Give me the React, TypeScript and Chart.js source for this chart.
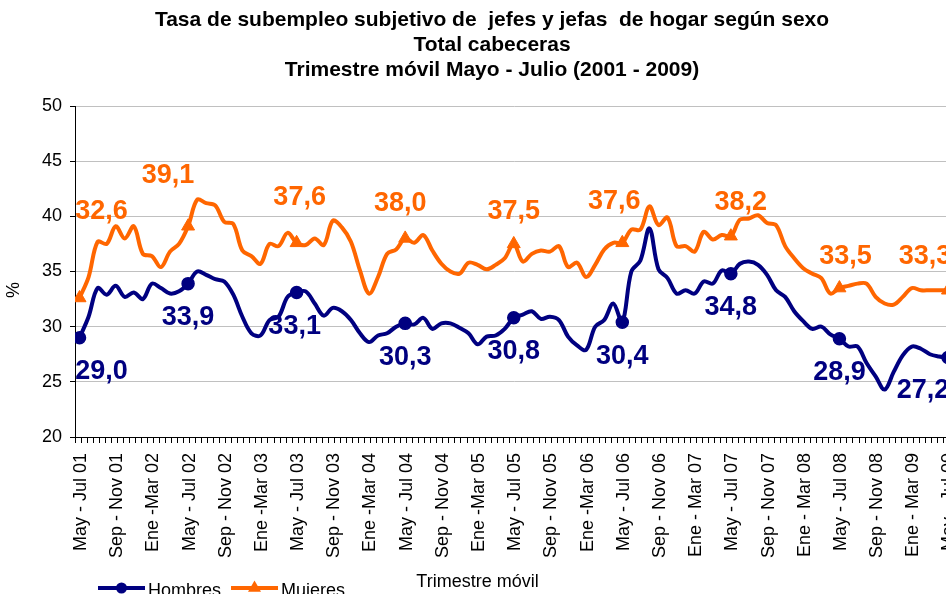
import React, { useEffect, useRef } from 'react';
import { Chart, registerables } from 'chart.js';

Chart.register(...registerables);

// ---- data ----
const tickLabels = [
  'May - Jul 01', 'Sep - Nov 01', 'Ene -Mar 02', 'May - Jul 02', 'Sep - Nov 02', 'Ene -Mar 03',
  'May - Jul 03', 'Sep - Nov 03', 'Ene -Mar 04', 'May - Jul 04', 'Sep - Nov 04', 'Ene -Mar 05',
  'May - Jul 05', 'Sep - Nov 05', 'Ene -Mar 06', 'May - Jul 06', 'Sep - Nov 06', 'Ene - Mar 07',
  'May - Jul 07', 'Sep - Nov 07', 'Ene - Mar 08', 'May - Jul 08', 'Sep - Nov 08', 'Ene - Mar 09',
  'May - Jul 09',
];

const hombres = [
  29.0, 30.9, 33.5, 32.9, 33.7, 32.7, 33.1, 32.5, 33.9, 33.5, 33.0, 33.2,
  33.9, 35.0, 34.7, 34.3, 34.1, 32.9, 30.9, 29.4, 29.2, 30.6, 30.9, 32.7,
  33.1, 33.2, 32.1, 31.0, 31.7, 31.4, 30.6, 29.4, 28.6, 29.2, 29.4, 30.0,
  30.3, 30.2, 30.8, 29.8, 30.3, 30.3, 29.9, 29.4, 28.4, 29.1, 29.2, 29.8,
  30.8, 31.1, 31.4, 30.7, 30.9, 30.6, 29.1, 28.3, 27.9, 30.0, 30.6, 32.1,
  30.4, 35.0, 36.0, 38.9, 35.2, 34.4, 33.0, 33.3, 33.0, 34.1, 33.9, 35.1,
  34.8, 35.7, 35.9, 35.6, 34.7, 33.3, 32.7, 31.4, 30.5, 29.8, 30.0, 29.3,
  28.9, 28.2, 28.2, 26.7, 25.5, 24.3, 25.9, 27.4, 28.2, 28.0, 27.5, 27.3,
  27.2,
];

const mujeres = [
  32.6, 34.5, 37.7, 37.5, 39.1, 38.0, 39.1, 36.6, 36.4, 35.4, 36.8, 37.5,
  39.1, 41.5, 41.2, 41.0, 39.5, 39.3, 36.9, 36.4, 35.7, 37.5, 37.3, 38.5,
  37.6, 37.4, 38.0, 37.4, 39.6, 39.0, 37.7, 35.1, 33.0, 34.5, 36.6, 37.0,
  38.0, 37.6, 38.3, 36.9, 35.7, 35.0, 34.8, 35.8, 35.6, 35.2, 35.6, 36.2,
  37.5, 35.9, 36.6, 36.9, 36.8, 37.3, 35.4, 35.8, 34.5, 35.6, 37.0, 37.6,
  37.6, 38.8, 38.8, 40.9, 39.2, 39.9, 37.3, 37.3, 36.8, 38.6, 37.9, 38.3,
  38.2, 39.7, 39.8, 40.1, 39.4, 39.2, 37.3, 36.2, 35.3, 34.8, 34.4, 33.0,
  33.5, 33.7, 33.9, 33.9, 32.7, 32.1, 32.0, 32.7, 33.5, 33.3, 33.3, 33.3,
  33.3,
];

const seriesNames = ['Hombres', 'Mujeres'];
const titleLines = [
  'Tasa de subempleo subjetivo de  jefes y jefas  de hogar según sexo',
  'Total cabeceras',
  'Trimestre móvil Mayo - Julio (2001 - 2009)',
];
const xAxisTitle = 'Trimestre móvil';
const yAxisTitle = '%';

// ---- style ----
const FONT = "'Liberation Sans', Arial, sans-serif";
const NAVY = '#000080';
const ORANGE = '#FF6600';
const MARKER_EVERY = 12;
const TICKS_PER_LABEL = 6;
const W = 984;
const H = 610;
// value-label offsets (dx, dy) from the marker, in px
const hombresLabelOffsets = [[22, 34], [0, 34], [-2, 34], [0, 34], [0, 34], [0, 34], [0, 34], [0, 34], [-25, 33]];
const mujeresLabelOffsets = [[22, -86], [-20, -51], [3, -45], [-5, -35], [0, -32], [-8, -41], [10, -34], [6, -32], [-23, -34]];

const valueLabels = {
  id: 'valueLabels',
  afterDatasetsDraw(chart: any) {
    const ctx = chart.ctx;
    ctx.save();
    ctx.font = `bold 27px ${FONT}`;
    ctx.textAlign = 'center';
    ctx.textBaseline = 'middle';
    chart.data.datasets.forEach((ds: any, di: number) => {
      const meta = chart.getDatasetMeta(di);
      const offs = di === 0 ? hombresLabelOffsets : mujeresLabelOffsets;
      ctx.fillStyle = ds.borderColor;
      meta.data.forEach((el: any, i: number) => {
        if (i % MARKER_EVERY !== 0) return;
        const [dx, dy] = offs[i / MARKER_EVERY];
        const v = ds.data[i].y as number;
        ctx.fillText(v.toFixed(1).replace('.', ','), el.x + dx, el.y + dy);
      });
    });
    ctx.restore();
  },
};

function drawMarker(ctx: CanvasRenderingContext2D, style: string, x: number, y: number, r: number) {
  ctx.beginPath();
  if (style === 'triangle') {
    for (let k = 0; k < 3; k++) {
      const a = (k * 2 * Math.PI) / 3;
      const px = x + Math.sin(a) * r;
      const py = y - Math.cos(a) * r;
      if (k === 0) ctx.moveTo(px, py);
      else ctx.lineTo(px, py);
    }
    ctx.closePath();
  } else {
    ctx.arc(x, y, r, 0, Math.PI * 2);
  }
  ctx.fill();
}

const extras = {
  id: 'extras',
  afterDraw(chart: any) {
    const { ctx, chartArea } = chart;
    ctx.save();
    ctx.font = `18px ${FONT}`;
    ctx.fillStyle = '#000';
    ctx.textAlign = 'center';
    ctx.textBaseline = 'alphabetic';
    ctx.fillText(xAxisTitle, chartArea.left + 402.5, 587);

    // y axis title
    ctx.save();
    ctx.translate(14, chartArea.top + 184);
    ctx.rotate(-Math.PI / 2);
    ctx.textAlign = 'center';
    ctx.textBaseline = 'middle';
    ctx.fillText(yAxisTitle, 0, 0);
    ctx.restore();

    // legend
    let x = chartArea.left + 23;
    const y = 588;
    chart.data.datasets.forEach((ds: any) => {
      const color = ds.borderColor;
      ctx.strokeStyle = color;
      ctx.fillStyle = color;
      ctx.lineWidth = 4;
      ctx.beginPath();
      ctx.moveTo(x, y);
      ctx.lineTo(x + 47, y);
      ctx.stroke();
      drawMarker(ctx, ds.pointStyle, x + 23.5, y, ds.pointStyle === 'triangle' ? 7.5 : 5.5);
      ctx.fillStyle = '#000';
      ctx.textAlign = 'left';
      ctx.textBaseline = 'alphabetic';
      ctx.fillText(ds.label, x + 50, 595.5);
      x += 50 + ctx.measureText(ds.label).width + 10;
    });
    ctx.restore();
  },
};

export default function App() {
  const ref = useRef<HTMLCanvasElement | null>(null);

  useEffect(() => {
    if (!ref.current) return;
    const nTicks = (hombres.length / (2 / 3)) | 0;
    const chart = new Chart(ref.current, {
      type: 'line',
      data: {
        datasets: [
          {
            label: seriesNames[0],
            data: hombres.map((y, i) => ({ x: i, y })),
            borderColor: NAVY,
            backgroundColor: NAVY,
            pointBackgroundColor: NAVY,
            pointBorderColor: NAVY,
            borderWidth: 4,
            tension: 0.35,
            pointStyle: 'circle',
            pointRadius: (c: any) => (c.dataIndex % MARKER_EVERY === 0 ? 6 : 0),
            pointBorderWidth: 1.5,
            fill: false,
          } as any,
          {
            label: seriesNames[1],
            data: mujeres.map((y, i) => ({ x: i, y })),
            borderColor: ORANGE,
            backgroundColor: ORANGE,
            pointBackgroundColor: ORANGE,
            pointBorderColor: ORANGE,
            borderWidth: 4,
            tension: 0.35,
            pointStyle: 'triangle',
            pointRadius: (c: any) => (c.dataIndex % MARKER_EVERY === 0 ? 7.5 : 0),
            pointBorderWidth: 1,
            fill: false,
          } as any,
        ],
      },
      options: {
        responsive: false,
        animation: false,
        layout: { padding: { left: 31.5, right: 31.5, top: 0, bottom: 0 } },
        plugins: {
          legend: { display: false },
          tooltip: { enabled: false },
          title: {
            display: true,
            text: titleLines,
            color: '#000',
            font: { family: FONT, size: 21, weight: 'bold', lineHeight: 1.2 },
            padding: { top: 7.2, bottom: 23.2 },
          },
        },
        scales: {
          x: {
            type: 'linear',
            min: -0.5,
            max: hombres.length - 0.5,
            afterBuildTicks: (s: any) => {
              const t = [];
              for (let k = 0; k <= nTicks; k++) t.push({ value: -0.5 + (k * 2) / 3 });
              s.ticks = t;
            },
            afterFit: (s: any) => {
              s.height = 173;
            },
            ticks: {
              autoSkip: false,
              minRotation: 90,
              maxRotation: 90,
              padding: 10,
              color: '#000',
              font: { family: FONT, size: 18 },
              callback: (_v: any, k: number) =>
                (k - 1) % TICKS_PER_LABEL === 0 ? tickLabels[(k - 1) / TICKS_PER_LABEL] ?? '' : '',
            },
            grid: { drawOnChartArea: false, drawTicks: true, tickLength: 6, tickColor: '#000', tickWidth: 1 },
            border: { color: '#000', width: 1 },
          },
          y: {
            min: 20,
            max: 50,
            afterFit: (s: any) => {
              s.width = 43.5;
            },
            ticks: { stepSize: 5, padding: 8, color: '#000', font: { family: FONT, size: 18 } },
            grid: { color: '#c0c0c0', lineWidth: 1, tickLength: 5, tickColor: '#000' },
            border: { color: '#000', width: 1 },
            title: { display: false },
          },
        },
      } as any,
      plugins: [valueLabels, extras],
    });
    return () => chart.destroy();
  }, []);

  return (
    <canvas
      ref={ref}
      width={W}
      height={H}
      style={{ position: 'fixed', left: 0, top: 0, display: 'block', width: W, height: H }}
    />
  );
}
